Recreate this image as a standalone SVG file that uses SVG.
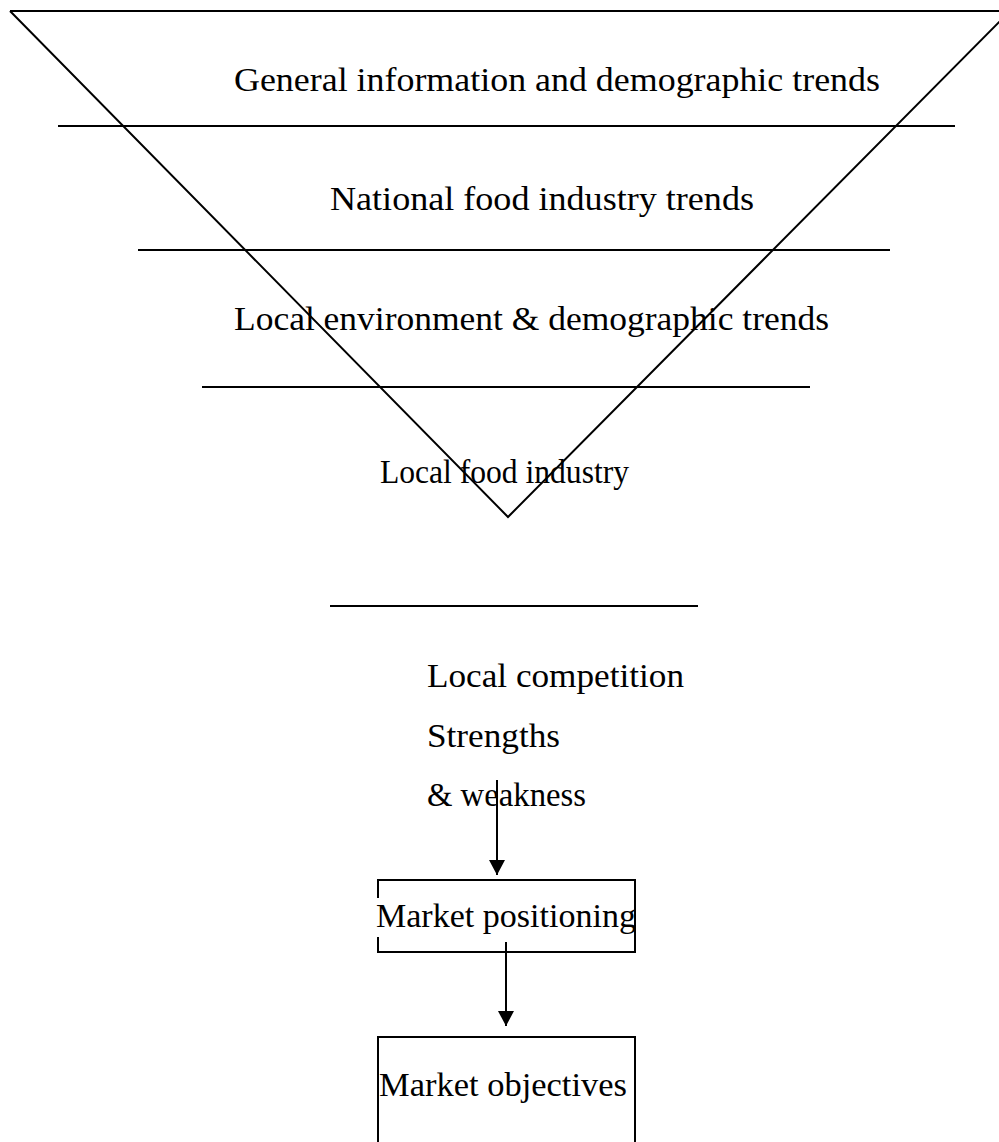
<svg xmlns="http://www.w3.org/2000/svg" width="999" height="1142" viewBox="0 0 999 1142">
<defs>
<style>
.ln{stroke:#000;stroke-width:2;fill:none}
.t{font-family:"Liberation Serif","DejaVu Serif",serif;font-size:33px;fill:#000}
</style>
<marker id="ah" markerWidth="15" markerHeight="16" refX="15" refY="8" orient="auto" markerUnits="userSpaceOnUse">
<path d="M0,0 L15,8 L0,16 Z" fill="#000"/>
</marker>
</defs>
<rect width="999" height="1142" fill="#fff"/>
<g id="funnel">
<path class="ln" d="M10,11 L1010,11 M10,11 L508,517 L1010,11"/>
</g>
<g id="dividers">
<line class="ln" x1="58" y1="126" x2="955" y2="126"/>
<line class="ln" x1="138" y1="250" x2="890" y2="250"/>
<line class="ln" x1="202" y1="387" x2="810" y2="387"/>
<line class="ln" x1="330" y1="606" x2="698" y2="606"/>
</g>
<g id="level1"><text class="t" x="234" y="91" textLength="646" lengthAdjust="spacingAndGlyphs">General information and demographic trends</text></g>
<g id="level2"><text class="t" x="330" y="210" textLength="424" lengthAdjust="spacingAndGlyphs">National food industry trends</text></g>
<g id="level3"><text class="t" x="234" y="330" textLength="595" lengthAdjust="spacingAndGlyphs">Local environment &amp; demographic trends</text></g>
<g id="level4"><text class="t" x="380" y="483" textLength="249" lengthAdjust="spacingAndGlyphs">Local food industry</text></g>
<g id="competition">
<text class="t" x="427" y="687" textLength="257" lengthAdjust="spacingAndGlyphs">Local competition</text>
<text class="t" x="427" y="747" textLength="133" lengthAdjust="spacingAndGlyphs">Strengths</text>
<text class="t" x="427" y="806" textLength="159" lengthAdjust="spacingAndGlyphs">&amp; weakness</text>
</g>
<g id="positioning">
<path class="ln" d="M378,898 L378,880 L635,880 L635,952 L378,952 L378,937"/>
<text class="t" x="376" y="927" textLength="260" lengthAdjust="spacingAndGlyphs">Market positioning</text>
</g>
<g id="objectives">
<path class="ln" d="M378,1142 L378,1037 L635,1037 L635,1142"/>
<text class="t" x="379" y="1096" textLength="248" lengthAdjust="spacingAndGlyphs">Market objectives</text>
</g>
<g id="connectors">
<line class="ln" x1="497" y1="780" x2="497" y2="875" marker-end="url(#ah)"/>
<line class="ln" x1="506" y1="942" x2="506" y2="1026" marker-end="url(#ah)"/>
</g>
</svg>
